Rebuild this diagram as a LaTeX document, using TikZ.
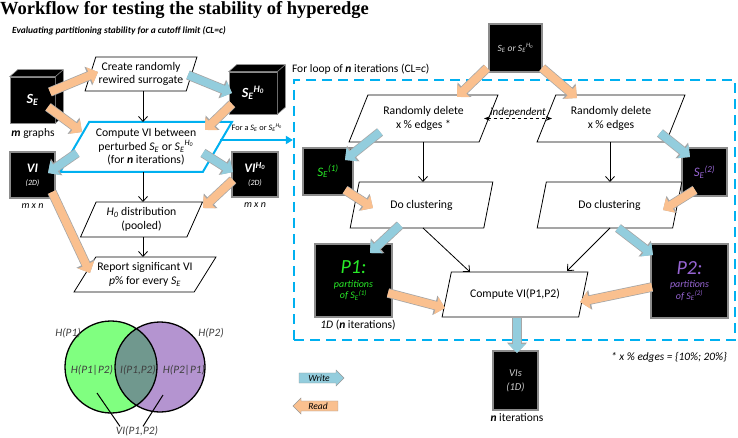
\documentclass[tikz,border=0pt]{standalone}
\usepackage{fontspec}
\setmainfont{Carlito}
\newfontfamily\titlefont{Liberation Serif}
\usetikzlibrary{shapes.geometric,shapes.arrows,arrows.meta,calc}

\definecolor{writeblue}{RGB}{147,205,221}
\definecolor{readorange}{RGB}{250,192,143}
\definecolor{loopblue}{RGB}{0,176,240}
\definecolor{pgreen}{RGB}{40,235,40}
\definecolor{ppurple}{RGB}{150,100,210}
\definecolor{venngreen}{RGB}{128,255,128}
\definecolor{vennpurple}{RGB}{180,148,208}
\definecolor{vennmid}{RGB}{112,152,142}

\newcommand{\SE}{\textit{S\textsubscript{E}}}
\newcommand{\SEH}{\textit{S\textsubscript{E}\textsuperscript{H\textsubscript{0}}}}
\newcommand{\nb}{\textbf{\textit{n}}}

\tikzset{
  procbox/.style={trapezium, trapezium left angle=#1, trapezium right angle=180-#1,
    trapezium stretches=true, draw, line width=0.8pt, fill=white, align=center,
    inner sep=0pt, font=\fontsize{11.7}{13.5}\selectfont},
  databox/.style={draw=black!45, line width=1.2pt, fill=black, text=white,
    align=center, inner sep=0pt},
  cubeedge/.style={draw=black!45, line width=0.6pt, fill=black},
  writearrow/.style={line width=8pt, writeblue, -{Triangle[length=9pt,width=17pt]},
    preaction={draw=black!35, line width=9.5pt, -{Triangle[length=10.5pt,width=19.5pt]}}},
  readarrow/.style={line width=8pt, readorange, -{Triangle[length=9pt,width=17pt]},
    preaction={draw=black!35, line width=9.5pt, -{Triangle[length=10.5pt,width=19.5pt]}}},
  flow/.style={line width=0.8pt, -{Straight Barb[length=5pt,width=9pt]}},
  small/.style={font=\fontsize{11.5}{13}\selectfont, inner sep=1pt},
}

\begin{document}
\begin{tikzpicture}[x=1pt,y=-1pt]
\useasboundingbox (0,0) rectangle (738,438);

% titles
\node[anchor=west, inner sep=0, font=\titlefont\bfseries\fontsize{18.5}{20}\selectfont] (title) at (0,10) {Workflow for testing the stability of hyperedge};
\node[anchor=west, inner sep=0, font=\bfseries\itshape\fontsize{9.4}{11}\selectfont] (subtitle) at (12,31) {Evaluating partitioning stability for a cutoff limit (CL=c)};

% left column
\node[procbox=67, minimum width=112, minimum height=34] (create) at (141,74) {Create randomly\\rewired surrogate};
\node[procbox=55, draw=loopblue, line width=2pt, minimum width=172, minimum height=50] (compute) at (146,147) {Compute VI between\\perturbed \SE{} or \SEH\\(for \nb{} iterations)};
\node[procbox=63, minimum width=123, minimum height=35] (hzero) at (141.5,219.5) {\textit{H\textsubscript{0}} distribution\\(pooled)};
\node[procbox=48, minimum width=142, minimum height=35] (report) at (145,274.5) {Report significant VI\\\textit{p}\% for every \SE};

\draw[flow] ($(create)+(2,17)$) -- ($(compute)+(-3,-25)$);
\draw[flow] ($(compute)+(-3,25)$) -- ($(hzero)+(1.5,-17.5)$);
\draw[flow] ($(hzero)+(1.5,17.5)$) -- ($(report)+(-2,-17.5)$);

% data cubes
\node[databox, line width=0.6pt, minimum width=45, minimum height=46, font=\bfseries\itshape\fontsize{14}{16}\selectfont] (se) at (32.5,100) {S\textsubscript{E}};
\filldraw[cubeedge] (se.north west) -- ++(8,-7) -- ($(se.north east)+(8,-7)$) -- ($(se.south east)+(8,-7)$) -- (se.south east) -- (se.north east) -- cycle;
\draw[black!45, line width=0.6pt] (se.north east) -- ++(8,-7);
\node[small] (segraphs) at (33,133) {\textbf{\textit{m}} graphs};

\node[databox, line width=0.6pt, minimum width=48, minimum height=42, font=\bfseries\itshape\fontsize{14}{16}\selectfont] (seh) at (253,93) {S\textsubscript{E}\textsuperscript{H\textsubscript{0}}};
\filldraw[cubeedge] (seh.north west) -- ++(8,-7) -- ($(seh.north east)+(8,-7)$) -- ($(seh.south east)+(8,-7)$) -- (seh.south east) -- (seh.north east) -- cycle;
\draw[black!45, line width=0.6pt] (seh.north east) -- ++(8,-7);

\node[databox, minimum width=45, minimum height=46] (vi) at (32.5,175) {{\bfseries\itshape\fontsize{13}{15}\selectfont VI}\\[1pt]{\itshape\fontsize{8}{9}\selectfont (2D)}};
\node[small, font=\itshape\fontsize{10}{12}\selectfont] (vidim) at (32.5,206) {m x n};
\node[databox, minimum width=46, minimum height=45] (vih) at (255,174.5) {{\bfseries\itshape\fontsize{13}{15}\selectfont VI\textsuperscript{H\textsubscript{0}}}\\[1pt]{\itshape\fontsize{8}{9}\selectfont (2D)}};
\node[small, font=\itshape\fontsize{10}{12}\selectfont] (vihdim) at (255,205) {m x n};

\node[font=\fontsize{8.3}{10}\selectfont, inner sep=0pt] (forlabel) at (257,128) {For a \SE{} or \SEH};

% venn diagram
\fill[venngreen] (111,367) circle (46pt);
\fill[vennpurple] (160,367) circle (45pt);
\begin{scope}
  \clip (111,367) circle (46pt);
  \fill[vennmid] (160,367) circle (45pt);
\end{scope}
\draw[line width=1.3pt] (111,367) circle (46pt) (160,367) circle (45pt);
\begin{scope}[every node/.style={font=\itshape\fontsize{11.3}{13}\selectfont, text=black!75, inner sep=0.5pt}]
  \node (hp1) at (68,333) {H(P1)};
  \node (hp2) at (211,333) {H(P2)};
  \node (hp1p2) at (92,370) {H(P1|P2)};
  \node (ip1p2) at (138,370) {I(P1,P2)};
  \node (hp2p1) at (184,370) {H(P2|P1)};
  \node (vilabel) at (137,431) {VI(P1,P2)};
\end{scope}
\coordinate (vileft) at (97,393);
\coordinate (viright) at (163,395);
\draw[line width=1pt] (vileft) -- ($(vilabel.north)+(-17,1)$);
\draw[line width=1pt] (viright) -- ($(vilabel.north)+(6,1)$);

% legend
\node[single arrow, fill=writeblue, draw=black!40, minimum height=45, single arrow head extend=3pt, inner sep=1.5pt, font=\itshape\fontsize{9.5}{10}\selectfont] (writekey) at (319,378) {Write};
\node[single arrow, shape border rotate=180, fill=readorange, draw=black!40, minimum height=45, single arrow head extend=3pt, inner sep=1.5pt, font=\itshape\fontsize{9.5}{10}\selectfont] (readkey) at (318,406) {Read};

% for loop box
\node[draw=loopblue, line width=2.2pt, dash pattern=on 10pt off 6pt, minimum width=441, minimum height=260, inner sep=0] (loop) at (514.5,210) {};
\node[anchor=south west, small] (looplabel) at ($(loop.north west)+(-2,-3)$) {For loop of \nb{} iterations (CL=\textit{c})};
\coordinate (forstart) at ($(compute)+(74,-7)$);
\draw[loopblue, line width=2pt, -{Triangle[length=7pt,width=8pt]}] (forstart) -- (forstart -| loop.west);

\node[databox, minimum width=53, minimum height=48, text=black!15, font=\itshape\fontsize{9.5}{12}\selectfont] (top) at (515.5,48) {S\textsubscript{E} or \SEH};

\node[procbox=60, minimum width=149, minimum height=47] (rdone) at (423.5,118.5) {Randomly delete\\x \% edges *};
\node[procbox=60, minimum width=148, minimum height=47] (rdtwo) at (611,118.5) {Randomly delete\\x \% edges};
\draw[line width=0.8pt, dashed, {Stealth[length=6pt]}-{Stealth[length=6pt]}] ($(rdone)+(60.5,0)$) -- node[above=1pt, font=\itshape\fontsize{11}{12}\selectfont, inner sep=0] (indep) {independent} ($(rdtwo)+(-59,0)$);

\node[databox, minimum width=50, minimum height=47, text=pgreen, font=\itshape\fontsize{13}{15}\selectfont] (seone) at (328,171.5) {S\textsubscript{E}\textsuperscript{(1)}};
\node[databox, minimum width=45, minimum height=48, text=ppurple, font=\itshape\fontsize{13}{15}\selectfont] (setwo) at (704.5,172) {S\textsubscript{E}\textsuperscript{(2)}};

\node[procbox=66, minimum width=143, minimum height=46] (dcone) at (421.5,205) {Do clustering};
\node[procbox=66, minimum width=145, minimum height=46] (dctwo) at (609.5,205) {Do clustering};
\draw[flow] ($(rdone)+(-0.5,23.5)$) -- ($(dcone)+(1.5,-23)$);
\draw[flow] ($(rdtwo)+(-1,23.5)$) -- ($(dctwo)+(0.5,-23)$);

\node[databox, minimum width=77, minimum height=73, text=pgreen, font=\itshape\fontsize{10}{11.5}\selectfont] (pone) at (353.5,280.5) {{\fontsize{20}{20}\selectfont P1:}\\[2pt]partitions\\of S\textsubscript{E}\textsuperscript{(1)}};
\node[small] (ponedim) at (358,325) {\textit{1D} (\nb{} iterations)};
\node[databox, minimum width=77, minimum height=74, text=ppurple, font=\itshape\fontsize{10}{11.5}\selectfont] (ptwo) at (689.5,281) {{\fontsize{20}{20}\selectfont P2:}\\[2pt]partitions\\of S\textsubscript{E}\textsuperscript{(2)}};

\node[procbox=58, minimum width=146, minimum height=45] (cvi) at (515,294.5) {Compute VI(P1,P2)};
\draw[flow] ($(dcone)+(1.5,23)$) -- ($(cvi)+(-45,-22.5)$);
\draw[flow] ($(dctwo)+(0.5,23)$) -- ($(cvi)+(52,-23.5)$);

\node[databox, minimum width=45, minimum height=59, text=black!20, font=\itshape\fontsize{10.5}{12}\selectfont] (vis) at (515.5,380.5) {VIs\\[2pt](1D)};
\node[small] (visdim) at (517,418) {\nb{} iterations};
\node[anchor=east, font=\itshape\fontsize{11.3}{12}\selectfont, inner sep=0] (footnote) at (727,357) {* x \% edges = \{10\%; 20\%\}};

% read and write arrows
\draw[readarrow] ($(se)+(17.5,-8)$) -- ($(create)+(-43,-2)$);
\draw[readarrow] ($(se)+(15.5,7)$) -- ($(compute)+(-64,-15)$);
\draw[writearrow] ($(create)+(47,1)$) -- ($(seh)+(-21,0)$);
\draw[readarrow] ($(seh)+(-21,11)$) -- ($(compute)+(59,-17)$);
\draw[writearrow] ($(compute)+(-69,6)$) -- ($(vi)+(15.5,-2)$);
\draw[writearrow] ($(compute)+(57,6)$) -- ($(vih)+(-22,-2.5)$);
\draw[readarrow] ($(vih)+(-22,5.5)$) -- ($(hzero)+(61.5,-11.5)$);
\draw[readarrow] ($(vi)+(19.5,17)$) -- ($(report)+(-55,-1.5)$);

\draw[readarrow] ($(top)+(-28.5,20)$) -- ($(rdone)+(33.5,-21.5)$);
\draw[readarrow] ($(top)+(26.5,20)$) -- ($(rdtwo)+(-34,-20.5)$);
\draw[writearrow] ($(rdone)+(-43.5,13.5)$) -- ($(seone)+(17,-11.5)$);
\draw[writearrow] ($(rdtwo)+(49,14.5)$) -- ($(setwo)+(-14.5,-15)$);
\draw[readarrow] ($(seone)+(17,18.5)$) -- ($(dcone)+(-48.5,3)$);
\draw[readarrow] ($(setwo)+(-9.5,18)$) -- ($(dctwo)+(53.5,5)$);
\draw[writearrow] ($(dcone)+(-21.5,20)$) -- ($(pone)+(16.5,-27.5)$);
\draw[writearrow] ($(dctwo)+(8.5,23)$) -- ($(ptwo)+(-36.5,-26)$);
\draw[readarrow] ($(pone)+(34.5,12.5)$) -- ($(cvi)+(-70,13.5)$);
\draw[readarrow] ($(ptwo)+(-37.5,6)$) -- ($(cvi)+(65,7.5)$);
\draw[writearrow] ($(cvi)+(2,23.5)$) -- ($(vis)+(1.5,-27.5)$);
\end{tikzpicture}
\end{document}
